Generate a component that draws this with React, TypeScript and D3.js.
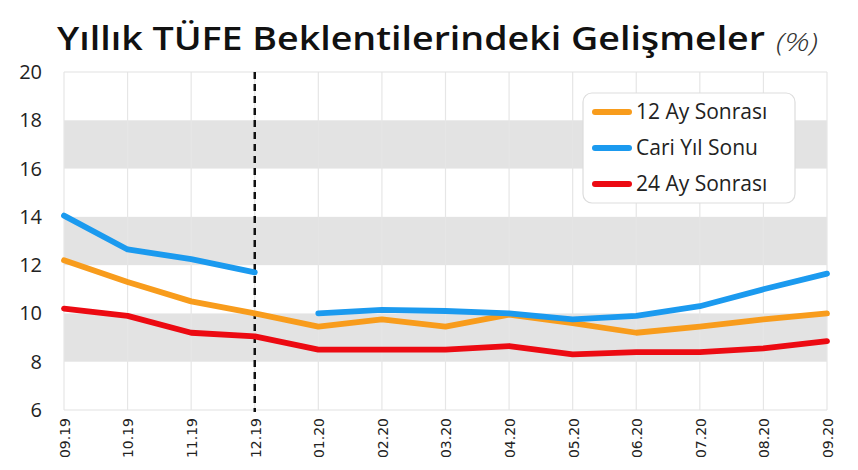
import React from "react";
import * as d3 from "d3";

const months = ["09.19","10.19","11.19","12.19","01.20","02.20","03.20","04.20","05.20","06.20","07.20","08.20","09.20"];
const ay12: (number|null)[] = [12.2, 11.3, 10.5, 10.0, 9.45, 9.75, 9.45, 9.95, 9.6, 9.2, 9.45, 9.75, 10.0];
const cari: (number|null)[] = [14.05, 12.65, 12.25, 11.7, 10.0, 10.15, 10.1, 10.0, 9.75, 9.9, 10.3, 11.0, 11.65];
const ay24: (number|null)[] = [10.2, 9.9, 9.2, 9.05, 8.5, 8.5, 8.5, 8.65, 8.3, 8.4, 8.4, 8.55, 8.85];
const yTicks = [6, 8, 10, 12, 14, 16, 18, 20];
const bands: [number, number][] = [[8, 10], [12, 14], [16, 18]];
const seriesNames = ["12 Ay Sonrası", "Cari Yıl Sonu", "24 Ay Sonrası"];
const colors = ["#F89C1C", "#1B9AEF", "#EC0A12"];
const dividerMonth = "12.19";

export default function App() {
  const W = 858, H = 470;
  const x = d3.scalePoint<string>().domain(months).range([64, 827]);
  const y = d3.scaleLinear().domain([6, 20]).range([410, 72]);

  const line = d3.line<[string, number | null]>()
    .defined(d => d[1] !== null)
    .x(d => x(d[0])!)
    .y(d => y(d[1] as number));

  const divIdx = months.indexOf(dividerMonth);
  const cariA: [string, number | null][] = months.map((m, i) => [m, i <= divIdx ? cari[i] : null]);
  const cariB: [string, number | null][] = months.map((m, i) => [m, i > divIdx ? cari[i] : null]);
  const s12: [string, number | null][] = months.map((m, i) => [m, ay12[i]]);
  const s24: [string, number | null][] = months.map((m, i) => [m, ay24[i]]);

  const x0 = x(months[0])!, x1 = x(months[months.length - 1])!;
  const font = "'Open Sans', 'Noto Sans', sans-serif";
  const lw = 5.8;

  return (
    <svg width={W} height={H} style={{ position: "absolute", left: 0, top: 0, background: "#fff" }}>
      <rect x={0} y={0} width={W} height={H} fill="#fff" />
      {/* title */}
      <text x={57} y={50} fontFamily={font} fontWeight={600} fontSize={33} fill="#111"
        textLength={708} lengthAdjust="spacingAndGlyphs">Yıllık TÜFE Beklentilerindeki Gelişmeler</text>
      <text x={776} y={51} fontFamily={font} fontStyle="italic" fontWeight={300} fontSize={25} fill="#333"
        textLength={42} lengthAdjust="spacingAndGlyphs">(%)</text>

      {/* bands */}
      {bands.map((b, i) => (
        <rect key={i} x={x0} y={y(b[1])} width={x1 - x0} height={y(b[0]) - y(b[1])} fill="#E3E3E3" />
      ))}
      {/* vertical gridlines */}
      {months.map(m => (
        <line key={m} x1={x(m)} x2={x(m)} y1={y(20)} y2={y(6)} stroke="#E6E6E6" strokeWidth={1.2} />
      ))}
      <line x1={x0} x2={x1} y1={y(20)} y2={y(20)} stroke="#E2E2E2" strokeWidth={1.2} />
      <line x1={x0} x2={x1} y1={y(6)} y2={y(6)} stroke="#E2E2E2" strokeWidth={1.2} />

      {/* y labels */}
      {yTicks.map(t => (
        <text key={t} x={42} y={y(t)} dy="0.35em" textAnchor="end" fontFamily={font} fontSize={20} fill="#222">{t}</text>
      ))}
      {/* x labels */}
      {months.map(m => (
        <text key={m} transform={`translate(${x(m)! + 1},${418}) rotate(-90)`} textAnchor="end" dy="0.35em"
          fontFamily="'DejaVu Sans', sans-serif" fontSize={14} fill="#222">{m}</text>
      ))}

      {/* divider */}
      <line x1={x(dividerMonth)} x2={x(dividerMonth)} y1={y(20)} y2={y(6) + 2} stroke="#111" strokeWidth={2.5} strokeDasharray="7,5" />

      {/* lines */}
      <path d={line(s24)!} fill="none" stroke={colors[2]} strokeWidth={lw} strokeLinecap="round" strokeLinejoin="round" />
      <path d={line(s12)!} fill="none" stroke={colors[0]} strokeWidth={lw} strokeLinecap="round" strokeLinejoin="round" />
      <path d={line(cariA)!} fill="none" stroke={colors[1]} strokeWidth={lw} strokeLinecap="round" strokeLinejoin="round" />
      <path d={line(cariB)!} fill="none" stroke={colors[1]} strokeWidth={lw} strokeLinecap="round" strokeLinejoin="round" />

      {/* legend */}
      <rect x={583} y={93} width={212} height={110} rx={9} fill="#fff" stroke="#DDDDDD" strokeWidth={1.2} />
      {seriesNames.map((n, i) => (
        <g key={n}>
          <line x1={595} x2={629} y1={112 + i * 36} y2={112 + i * 36} stroke={colors[i]} strokeWidth={6} strokeLinecap="round" />
          <text x={636} y={112 + i * 36} dy="0.35em" fontFamily={font} fontSize={21} fill="#222">{n}</text>
        </g>
      ))}
    </svg>
  );
}
